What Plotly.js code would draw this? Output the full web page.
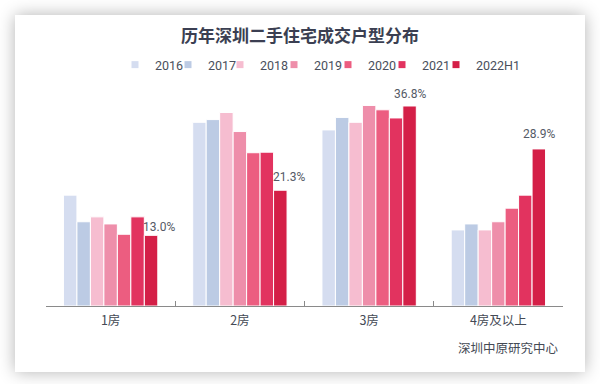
<!DOCTYPE html>
<html><head><meta charset="utf-8">
<script src="https://cdn.plot.ly/plotly-3.0.1.min.js"></script>
<style>
body{margin:0;background:#fff;}
#card{position:absolute;left:15px;top:15px;width:570px;height:357px;background:#fff;box-shadow:0 0 16px rgba(0,0,0,0.3);}
#chart{position:absolute;left:0;top:0;width:600px;height:384px;}
</style></head>
<body>
<div id="card"></div>
<div id="chart"></div>
<script>
const categories = ['1房','2房','3房','4房及以上'];
const years = ['2016','2017','2018','2019','2020','2021','2022H1'];
const v2016 = [20.4, 33.8, 32.4, 14.0];
const v2017 = [15.5, 34.3, 34.7, 15.1];
const v2018 = [16.4, 35.6, 33.8, 14.0];
const v2019 = [15.1, 32.1, 36.9, 15.5];
const v2020 = [13.2, 28.2, 36.1, 18.0];
const v2021 = [16.4, 28.3, 34.6, 20.4];
const v2022H1 = [13.0, 21.3, 36.8, 28.9];
const series = [v2016, v2017, v2018, v2019, v2020, v2021, v2022H1];
const colors = ['#d5ddf0','#bccbe4','#f6bdd0','#ee8eaa','#ec5d80','#e2335f','#d41f47'];
const source = '深圳中原研究中心';
const bargap = 0.27;

// plot area geometry (pixels)
const W = 600, H = 384, ML = 46, MR = 37, MT = 100, MB = 78;
const PW = W - ML - MR, PH = H - MT - MB;
const px2paperX = p => (p - ML) / PW;
const px2paperY = p => (H - MB - p) / PH;

const legendTextStart = [156, 209, 261, 315, 369, 423, 477];
const traces = series.map((vals, i) => ({
  type: 'bar', name: years[i], x: categories, y: vals,
  marker: {color: colors[i], line: {color: '#ffffff', width: 1}},
  hoverinfo: 'skip', showlegend: false
}));
// legend keys only (small squares); no points are drawn
years.forEach((y, i) => {
  traces.push({
    type: 'scatter', mode: 'markers', name: y, x: categories, y: categories.map(() => null),
    marker: {symbol: 'square', size: 7, color: colors[i]},
    hoverinfo: 'skip', showlegend: true,
    legend: i === 0 ? 'legend' : 'legend' + (i + 1)
  });
});

const nb = series.length;
const bw = (1 - bargap) / nb;
const lastLeft = (nb - 1) / 2 * bw - bw / 2;
const labelFont = {size: 12, color: '#555a66', family: 'Roboto, "Noto Sans CJK SC", sans-serif'};
const labelYShift = [-1, 4, 3, 6];
const annotations = v2022H1.map((v, i) => {
  const side = i < 2;
  return {
    x: side ? i + lastLeft : i + lastLeft + bw / 2, y: v, xref: 'x', yref: 'y',
    text: v.toFixed(1) + '%', showarrow: false,
    xanchor: side ? 'left' : 'center', yanchor: 'bottom',
    yshift: labelYShift[i], xshift: side ? -3 : 0,
    font: labelFont
  };
});
annotations.push({
  x: px2paperX(508), y: px2paperY(347), xref: 'paper', yref: 'paper', text: source, showarrow: false,
  xanchor: 'center', yanchor: 'middle',
  font: {size: 12.5, color: '#444a55', family: '"Noto Sans CJK SC", sans-serif'}
});

const layout = {
  width: W, height: H,
  margin: {l: ML, r: MR, t: MT, b: MB},
  paper_bgcolor: 'rgba(0,0,0,0)', plot_bgcolor: 'rgba(0,0,0,0)',
  barmode: 'group', bargap: bargap, bargroupgap: 0,
  title: {text: '<b>历年深圳二手住宅成交户型分布</b>', x: 0.5, xanchor: 'center', y: 1 - 36 / H, yanchor: 'middle',
    font: {size: 17, color: '#3b3f52', family: '"Noto Sans CJK SC", sans-serif'}},
  showlegend: true,
  xaxis: {type: 'category', showline: true, linecolor: '#8a8a8a', linewidth: 1,
    ticks: 'inside', tickson: 'boundaries', ticklen: 5, tickcolor: '#8a8a8a',
    showgrid: false, zeroline: false, ticklabelstandoff: 3,
    tickfont: {size: 12.5, color: '#444a55', family: '"Noto Sans CJK SC", sans-serif'}},
  yaxis: {range: [0, PH / 5.435], visible: false, showgrid: false, zeroline: false},
  annotations: annotations
};
years.forEach((y, i) => {
  layout[i === 0 ? 'legend' : 'legend' + (i + 1)] = {
    orientation: 'h', x: px2paperX(legendTextStart[i] - 41), xanchor: 'left',
    y: px2paperY(65), yanchor: 'middle', bgcolor: 'rgba(0,0,0,0)', borderwidth: 0,
    font: {size: 12.5, color: '#4a4f5c', family: 'Roboto, sans-serif'}
  };
});
Plotly.newPlot('chart', traces, layout, {displayModeBar: false, staticPlot: true});
</script>
</body></html>
